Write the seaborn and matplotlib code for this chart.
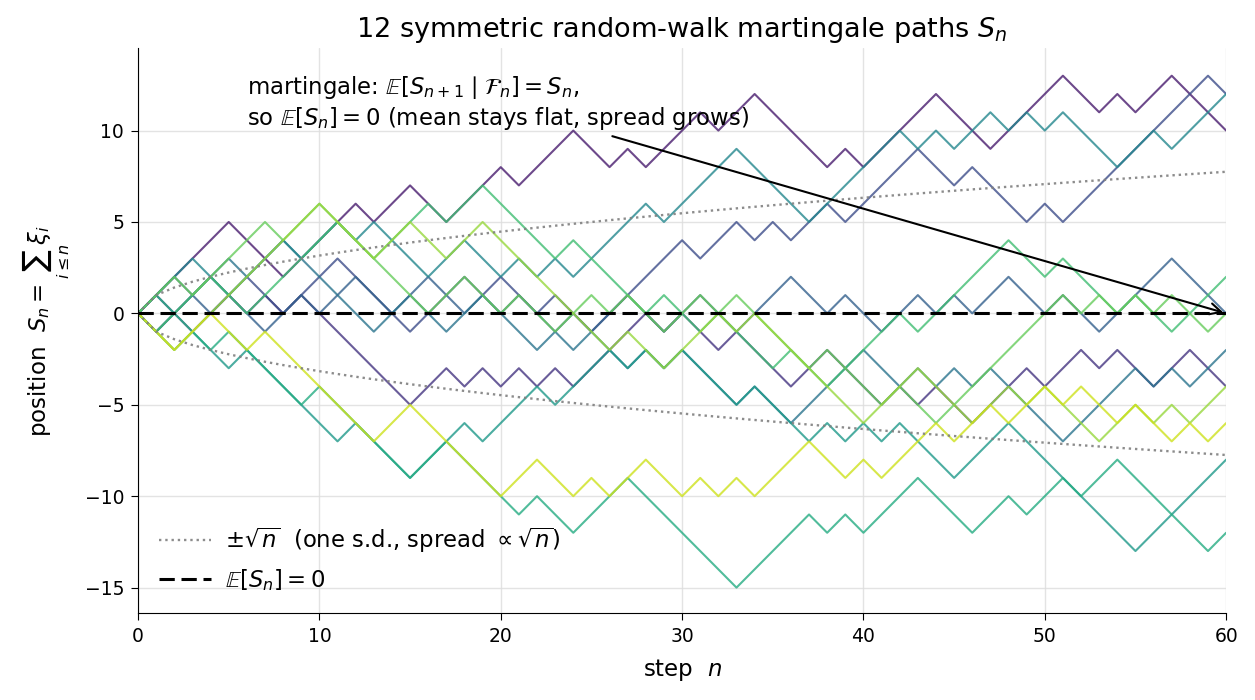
import numpy as np
import pandas as pd
import matplotlib
matplotlib.use("Agg")
import matplotlib.pyplot as plt
import seaborn as sns

# positions S_n for n = 0..60, one list per path
path_00 = [0, 1, 2, 3, 4, 5, 4, 3, 2, 3, 4, 5, 6, 5, 6, 7, 6, 5, 6, 7, 8, 7, 8, 9, 10, 9, 8, 9, 8, 9, 10,
           11, 10, 11, 12, 11, 10, 9, 8, 9, 8, 9, 10, 11, 12, 11, 10, 9, 10, 11, 12, 13, 12, 11, 12, 11, 12, 13, 12, 11, 10]
path_01 = [0, 1, 0, -1, 0, 1, 0, 1, 0, 1, 0, -1, -2, -3, -4, -5, -4, -3, -4, -3, -4, -3, -4, -3, -4, -3, -2, -1, 0, -1, 0,
           -1, -2, -1, -2, -3, -4, -3, -2, -3, -4, -5, -4, -5, -4, -5, -6, -5, -4, -3, -4, -3, -2, -3, -2, -3, -4, -3, -2, -3, -4]
path_02 = [0, -1, 0, 1, 2, 1, 2, 1, 0, 1, 2, 3, 2, 1, 0, -1, 0, 1, 2, 1, 2, 1, 0, 1, 0, -1, 0, 1, 2, 3, 4,
           3, 4, 5, 4, 5, 4, 5, 6, 5, 6, 7, 8, 9, 8, 7, 8, 7, 6, 5, 6, 5, 6, 7, 8, 9, 10, 11, 12, 13, 12]
path_03 = [0, 1, 2, 1, 0, 1, 0, -1, 0, 1, 0, 1, 2, 1, 0, 1, 2, 1, 0, 1, 0, 1, 0, -1, 0, -1, 0, 1, 0, -1, 0,
           1, 0, -1, 0, 1, 2, 1, 0, 1, 0, -1, 0, 1, 0, 1, 0, 1, 2, 1, 0, 1, 0, -1, 0, 1, 2, 3, 2, 1, 0]
path_04 = [0, -1, 0, 1, 2, 3, 2, 3, 4, 3, 2, 1, 0, -1, 0, 1, 0, -1, 0, 1, 0, -1, -2, -1, -2, -1, -2, -3, -2, -3, -2,
           -3, -4, -5, -4, -5, -6, -5, -4, -3, -2, -3, -4, -3, -4, -3, -4, -3, -4, -5, -6, -7, -6, -5, -4, -3, -4, -3, -4, -3, -2]
path_05 = [0, 1, 2, 3, 2, 1, 2, 3, 4, 3, 4, 5, 4, 5, 4, 3, 2, 3, 4, 3, 2, 3, 2, 3, 2, 3, 4, 5, 6, 5, 6,
           7, 8, 9, 8, 7, 6, 5, 6, 7, 8, 9, 10, 9, 10, 9, 10, 11, 10, 11, 10, 11, 10, 9, 8, 9, 10, 9, 10, 11, 12]
path_06 = [0, -1, -2, -1, -2, -3, -2, -3, -4, -5, -6, -7, -6, -7, -8, -9, -8, -7, -6, -7, -6, -5, -4, -5, -4, -3, -2, -3, -2, -3, -2,
           -3, -4, -5, -4, -5, -6, -7, -6, -7, -6, -7, -6, -7, -8, -9, -8, -7, -6, -7, -8, -9, -10, -11, -12, -13, -12, -11, -10, -9, -8]
path_07 = [0, 1, 0, -1, -2, -1, -2, -3, -4, -5, -4, -5, -6, -7, -8, -9, -8, -7, -8, -9, -10, -11, -10, -11, -12, -11, -10, -9, -10, -11, -12,
           -13, -14, -15, -14, -13, -12, -11, -12, -11, -12, -11, -10, -9, -10, -11, -12, -11, -10, -11, -10, -9, -10, -9, -8, -9, -10, -11, -12, -13, -12]
path_08 = [0, -1, 0, 1, 2, 1, 0, 1, 2, 3, 4, 5, 4, 3, 4, 5, 6, 5, 6, 7, 6, 5, 4, 3, 4, 3, 2, 1, 0, 1, 0,
           -1, 0, -1, -2, -3, -2, -3, -4, -3, -2, -1, 0, -1, 0, 1, 2, 3, 4, 3, 2, 3, 2, 1, 0, 1, 0, -1, 0, 1, 2]
path_09 = [0, 1, 2, 1, 2, 3, 4, 5, 4, 5, 6, 5, 4, 3, 2, 1, 0, 1, 2, 1, 0, 1, 0, -1, 0, 1, 0, 1, 0, -1, 0,
           1, 0, 1, 0, -1, -2, -3, -2, -3, -4, -5, -4, -5, -6, -5, -4, -3, -2, -1, 0, 1, 0, 1, 0, 1, 0, 1, 0, -1, 0]
path_10 = [0, -1, -2, -1, 0, 1, 2, 3, 4, 5, 6, 5, 4, 3, 4, 5, 4, 3, 4, 5, 4, 3, 2, 1, 0, -1, -2, -1, -2, -3, -2,
           -1, 0, -1, 0, -1, -2, -3, -4, -5, -6, -5, -4, -3, -4, -5, -6, -5, -4, -5, -4, -5, -6, -7, -6, -5, -6, -5, -6, -5, -4]
path_11 = [0, -1, -2, -1, 0, -1, -2, -1, -2, -3, -4, -5, -6, -7, -6, -5, -6, -7, -8, -9, -10, -9, -8, -9, -10, -9, -10, -9, -8, -9, -10,
           -9, -10, -9, -10, -9, -8, -7, -8, -9, -8, -9, -8, -7, -6, -7, -6, -5, -6, -5, -4, -5, -4, -5, -6, -5, -6, -7, -6, -7, -6]

paths = [path_00, path_01, path_02, path_03, path_04, path_05,
         path_06, path_07, path_08, path_09, path_10, path_11]
n_steps = 60
x_ticks = [0, 10, 20, 30, 40, 50, 60]
y_ticks = [-15, -10, -5, 0, 5, 10]

rows = []
for k, p in enumerate(paths):
    for n, s in enumerate(p):
        rows.append({"step": n, "position": s, "path": f"p{k:02d}"})
df = pd.DataFrame(rows)

sns.set_style("ticks")
plt.rcParams["font.family"] = ["DejaVu Sans"]
plt.rcParams["text.color"] = "black"
plt.rcParams["axes.labelcolor"] = "black"
plt.rcParams["xtick.color"] = "black"
plt.rcParams["ytick.color"] = "black"
plt.rcParams["axes.edgecolor"] = "black"

fig = plt.figure(figsize=(12.55, 7), dpi=100)
ax = fig.add_axes([0.110, 0.124, 0.867, 0.807])

sns.lineplot(data=df, x="step", y="position", hue="path",
             palette=sns.color_palette("viridis", len(paths)),
             estimator=None, legend=False, linewidth=1.5, alpha=0.8, ax=ax)

n = np.arange(0, n_steps + 1)
sd = np.sqrt(n)
ax.plot(n, sd, ls=":", color="gray", lw=1.7, alpha=0.9,
        label=r"$\pm\sqrt{n}$  (one s.d., spread $\propto\sqrt{n}$)")
ax.plot(n, -sd, ls=":", color="gray", lw=1.7, alpha=0.9)
ax.axhline(0, color="black", ls=(0, (5, 2.2)), lw=2.2, label=r"$\mathbb{E}[S_n]=0$")

ax.annotate("martingale: $\\mathbb{E}[S_{n+1}\\mid\\mathcal{F}_n]=S_n$,\nso $\\mathbb{E}[S_n]=0$ (mean stays flat, spread grows)",
            xy=(60, 0), xytext=(6, 11.5), fontsize=16.4, va="center", ha="left",
            arrowprops=dict(arrowstyle="->", color="black", lw=1.5, mutation_scale=20))

ax.set_xlim(0, n_steps)
ax.set_ylim(-16.4, 14.5)
ax.set_xticks(x_ticks)
ax.set_yticks(y_ticks)
ax.tick_params(labelsize=13.5, length=5, pad=5)
ax.grid(True, color="#dddddd", lw=1, alpha=0.8)
ax.set_xlabel("step  $n$", fontsize=16.5, labelpad=8)
ax.set_ylabel(r"position  $S_n=\sum_{i\leq n}\xi_i$", fontsize=16.5, labelpad=9)
ax.set_title("12 symmetric random-walk martingale paths $S_n$", fontsize=19.5, pad=8)
sns.despine(ax=ax)
ax.legend(loc="lower left", frameon=False, fontsize=16.4, handlelength=2.3,
          handletextpad=0.6)

fig.savefig("out.png", dpi=100)
